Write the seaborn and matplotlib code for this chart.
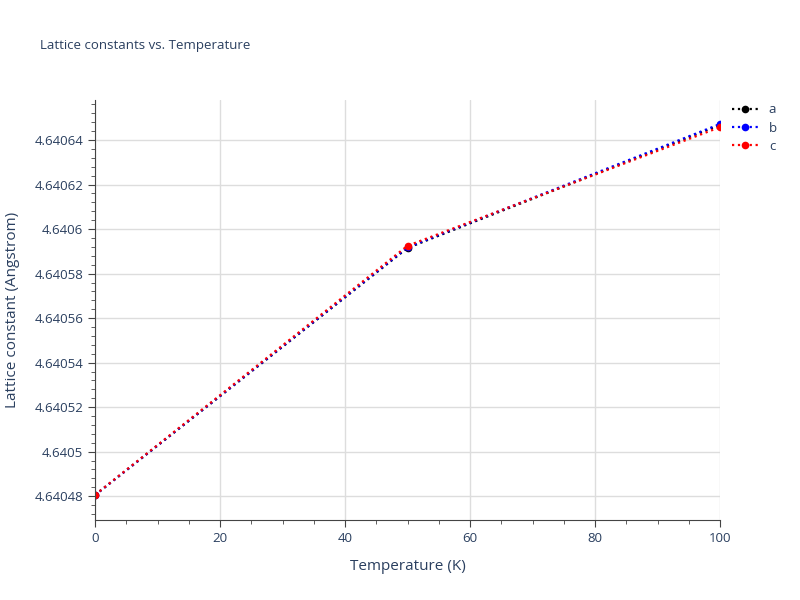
import matplotlib
matplotlib.use("Agg")
import matplotlib.pyplot as plt
import seaborn as sns
import pandas as pd
from matplotlib.ticker import FuncFormatter, MultipleLocator

temps = [0, 50, 100]
a_vals = [4.6404805, 4.6405915, 4.6406468]
b_vals = [4.6404805, 4.6405918, 4.6406472]
c_vals = [4.6404806, 4.6405925, 4.6406458]
series = {"a": (a_vals, "black"), "b": (b_vals, "blue"), "c": (c_vals, "red")}

sns.set_style("white")
plt.rcParams['font.family'] = ['Open Sans', 'DejaVu Sans']
fig = plt.figure(figsize=(8, 6), dpi=100)
ax = fig.add_axes([95/800, 80/600, 625/800, 420/600])
for name, (vals, col) in series.items():
    df = pd.DataFrame({"T": temps, "v": vals})
    sns.lineplot(data=df, x="T", y="v", ax=ax, color=col, linestyle=":", linewidth=1.6,
                 marker="o", markersize=5.5, markeredgewidth=0, label=name)
ax.set_xlim(0, 100)
ax.set_ylim(4.6404693, 4.6406580)
ax.xaxis.set_major_locator(MultipleLocator(20))
ax.yaxis.set_major_locator(MultipleLocator(0.00002))
ax.xaxis.set_minor_locator(MultipleLocator(5))
ax.yaxis.set_minor_locator(MultipleLocator(0.000004))
ax.yaxis.set_major_formatter(FuncFormatter(lambda v, p: f"{v:.5f}".rstrip("0")))
ax.grid(True, which="major", color="#dddddd", linewidth=1)
for s in ["top", "right"]:
    ax.spines[s].set_visible(False)
for s in ["left", "bottom"]:
    ax.spines[s].set_color("#444444")
ax.tick_params(which="major", direction="out", length=5, color="#444444", labelcolor="#2a3f5f", labelsize=9.5, left=True, bottom=True)
ax.tick_params(which="minor", direction="out", length=3, color="#444444", left=True, bottom=True)
ax.set_xlabel("Temperature (K)", color="#2a3f5f", fontsize=11, labelpad=10)
ax.set_ylabel("Lattice constant (Angstrom)", color="#2a3f5f", fontsize=11, labelpad=10)
fig.text(40/800, 1-46/600, "Lattice constants vs. Temperature", color="#2a3f5f", fontsize=9.5, va="center")
leg = ax.legend(loc="upper left", bbox_to_anchor=(1.0, 1.02), frameon=False, fontsize=9.5,
                handlelength=2, labelspacing=0.4)
for t in leg.get_texts():
    t.set_color("#2a3f5f")
fig.savefig("out.png", dpi=100)
